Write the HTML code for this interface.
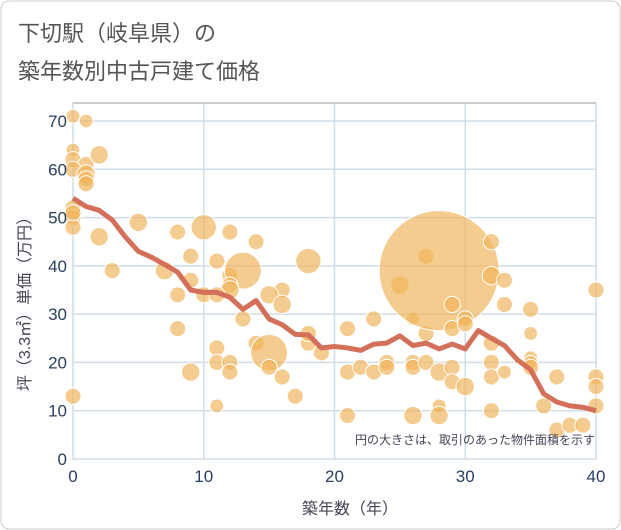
<!DOCTYPE html>
<html><head><meta charset="utf-8"><style>
body{margin:0;background:#fff;}
svg{display:block;font-family:"Liberation Sans","Noto Sans CJK JP",sans-serif;}
</style></head><body>
<svg id="c" width="621" height="530">
<rect x="1" y="1" width="619" height="528" rx="8" fill="#fff" stroke="#ccc"/>
<text x="18" y="41" font-size="22" fill="#555">下切駅（岐阜県）の</text>
<text x="18" y="79" font-size="22" fill="#555">築年数別中古戸建て価格</text>
<g id="grid"></g><g id="bub"></g><g id="ln"></g><g id="ax"></g>
<text x="595" y="444" font-size="12" fill="#445" text-anchor="end">円の大きさは、取引のあった物件面積を示す</text>
<text x="350" y="514" font-size="16" fill="#445" text-anchor="middle">築年数（年）</text>
<text transform="translate(30,300) rotate(-90)" font-size="16" fill="#445" text-anchor="middle">坪（3.3㎡）単価（万円）</text>
</svg>
<script>
const xTicks=[0,10,20,30,40];
const yTicks=[0,10,20,30,40,50,60,70];
const lineX=[0,1,2,3,4,5,6,7,8,9,10,11,12,13,14,15,16,17,18,19,20,21,22,23,24,25,26,27,28,29,30,31,32,33,34,35,36,37,38,39,40];
const lineY=[54,52.3,51.5,49.5,46,43,41.8,40.3,38.7,35,34.5,34.5,33.5,31,32.8,29,27.8,25.8,25.7,23,23.3,23,22.5,23.8,24,25.5,23.5,24,22.8,23.8,22.8,26.6,25,23.5,20.5,18.5,13.5,11.8,11,10.7,10];
const bubX=[0,1,0,0,1,2,0,1,1,1,0,0,0,0,2,3,5,0,8,10,12,14,9,11,8,7,12,13,12,9,12,10,11,16,15,16,13,8,14,15,15,18,18,18,19,9,11,11,12,12,16,17,11,21,21,21,22,23,23,24,24,25,26,26,26,26,27,27,27,28,28,28,28,29,29,29,29,30,30,30,32,32,32,32,32,32,33,33,33,35,35,35,35,35,36,37,37,38,39,40,40,40,40];
const bubY=[71,70,64,62,61,63,60,59,58,57,52,50,48,51,46,39,49,13,47,48,47,45,42,41,34,39,38,39,36,37,35,34,34,35,34,32,29,27,24,22,19,41,24,26,22,18,23,20,20,18,17,13,11,27,18,9,19,29,18,20,19,36,29,20,19,9,42,26,20,39,18,11,9,32,27,19,16,29,28,15,45,38,24,20,17,10,37,32,18,31,26,21,20,19,11,17,6,7,7,35,17,15,11];
const bubR=[6,6,6,7,7,8,7,8,7,7,7,7,7,7,8,7,8,7,7,11,7,7,7,7,7,8,7,16,7,7,8,7,7,7,8,8,7,7,7,16,7,11,7,7,7,8,7,7,7,7,7,7,6,7,7,7,7,7,7,7,7,8,6,7,7,8,7,7,7,60,8,6,8,7,7,7,7,7,7,8,7,8,7,7,7,7,7,7,6,7,6,6,6,7,7,7,7,7,7,7,7,7,7];
const L=73,R=596,T=103,B=459;
const sx=v=>L+(R-L)*v/40, sy=v=>B-(B-121)*v/70;
const NS="http://www.w3.org/2000/svg";
function mk(t,a,p){const e=document.createElementNS(NS,t);for(const k in a)e.setAttribute(k,a[k]);p.appendChild(e);return e;}
const g=document.getElementById('grid');
mk('rect',{x:L,y:T,width:R-L,height:B-T,fill:'none',stroke:'#999'},g);
xTicks.forEach(t=>{const l=mk('line',{x1:sx(t),x2:sx(t),y1:T,y2:B,stroke:'#d0dce8','stroke-width':1.5},g);


const tx=mk('text',{x:sx(t),y:B+23,'font-size':17,fill:'#2a3f5f','text-anchor':'middle'},document.getElementById('ax'));tx.textContent=t;

});
yTicks.forEach(t=>{const l=mk('line',{x1:L,x2:R,y1:sy(t),y2:sy(t),stroke:'#d0dce8','stroke-width':1.5},g);


const tx=mk('text',{x:L-6,y:sy(t)+6,'font-size':17,fill:'#2a3f5f','text-anchor':'end'},document.getElementById('ax'));tx.textContent=t;

});
const bg=document.getElementById('bub');
bubX.forEach((x,i)=>{const r=bubR[i]<20?bubR[i]*1.15:bubR[i];const c=mk('circle',{cx:sx(x),cy:sy(bubY[i]),r:r,fill:'rgba(240,180,90,0.68)',stroke:'#fff','stroke-width':1},bg);

});
const p=mk('polyline',{points:lineX.map((x,i)=>sx(x)+','+sy(lineY[i])).join(' '),fill:'none',stroke:'#d4705a','stroke-width':5,'stroke-linejoin':'round'},document.getElementById('ln'));


</script>
</body></html>
